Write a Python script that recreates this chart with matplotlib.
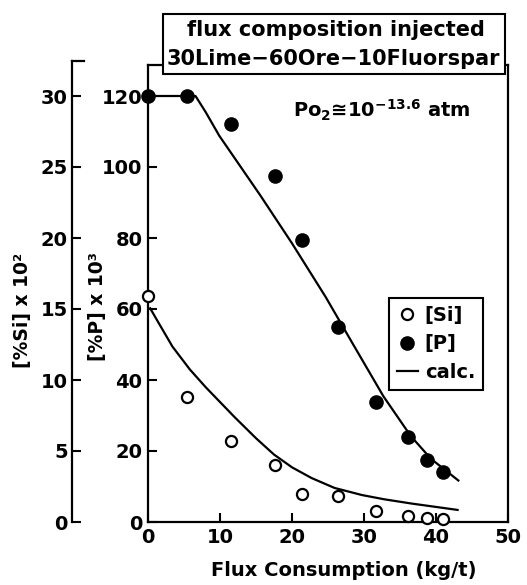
import matplotlib
matplotlib.use('Agg')
import matplotlib.pyplot as plt
from matplotlib.patches import Rectangle
from matplotlib.lines import Line2D

plt.rcParams['font.family'] = ['DejaVu Sans']
plt.rcParams['font.weight'] = 'bold'
plt.rcParams['mathtext.fontset'] = 'dejavusans'
plt.rcParams['mathtext.default'] = 'bf'

# ---- data ----
flux = [0, 5.4, 11.5, 17.6, 21.4, 26.4, 31.6, 36.1, 38.7, 41.0]
p_obs = [120, 120, 112.2, 97.5, 79.3, 54.9, 33.9, 23.9, 17.5, 14.2]       # [%P] x 10^3
si_obs = [15.9, 8.8, 5.7, 4.0, 2.0, 1.8, 0.8, 0.4, 0.3, 0.2]             # [%Si] x 10^2

p_calc_x = [0, 6.6, 8.0, 9.9, 15.6, 20, 24.7, 28.5, 32.7, 36.5, 39.3, 43.1]
p_calc_y = [120, 120, 115.5, 108.8, 92.0, 78.5, 63.3, 50.0, 35.4, 24.2, 17.8, 11.7]

si_calc_x = [0.3, 1.5, 3.4, 5.8, 8.0, 10.0, 12.0, 15.0, 17.5, 20.0, 22.7, 25.9, 29.7, 32.8, 36.6, 43.0]
si_calc_y = [15.05, 14.0, 12.35, 10.75, 9.5, 8.45, 7.4, 5.9, 4.75, 3.85, 3.1, 2.4, 1.9, 1.6, 1.3, 0.85]

x_ticks = [0, 10, 20, 30, 40, 50]
p_ticks = [0, 20, 40, 60, 80, 100, 120]
si_ticks = [0, 5, 10, 15, 20, 25, 30]

title_lines = ['flux composition injected', '30Lime\u221260Ore\u221210Fluorspar']

# ---- layout ----
W, H = 527, 585
fig = plt.figure(figsize=(W / 100, H / 100), dpi=100)


def fx(px):
    return px / W


def fy(py):
    return 1 - py / H


L, R, T, B = 148, 508, 65, 522
ymax = 120 * (B - T) / (B - 96)

ax = fig.add_axes([fx(L), fy(B), (R - L) / W, (B - T) / H])
ax.set_xlim(0, 50)
ax.set_ylim(0, ymax)
ax.set_xticks(x_ticks)
ax.set_yticks(p_ticks)
ax.tick_params(direction='in', length=6.5, width=1.5, labelsize=14, pad=4)
for s in ax.spines.values():
    s.set_linewidth(1.6)

ax2 = ax.twinx()
ax2.set_ylim(0, ymax / 4)
for k in ['right', 'top', 'bottom']:
    ax2.spines[k].set_visible(False)
ax2.spines['left'].set_visible(True)
ax2.spines['left'].set_position(('axes', (72 - L) / (R - L)))
ax2.spines['left'].set_linewidth(1.6)
ax2.spines['left'].set_bounds(0, (B - 61) / ((B - 96) / 120) / 4)
ax2.yaxis.set_ticks_position('left')
ax2.set_yticks(si_ticks)
ax2.tick_params(direction='in', length=6.5, width=1.5, labelsize=14, pad=3)

# calc lines
ax.plot(p_calc_x, p_calc_y, color='k', lw=1.6, zorder=3, clip_on=False)
ax2.plot(si_calc_x, si_calc_y, color='k', lw=1.6, zorder=3, clip_on=False)
# observed
ax.plot(flux, p_obs, 'o', color='k', ms=9.5, zorder=4, clip_on=False)
ax2.plot(flux, si_obs, 'o', mfc='white', mec='k', mew=1.6, ms=8, zorder=4, clip_on=False)

# legend
handles = [
    Line2D([], [], marker='o', ls='none', mfc='white', mec='k', mew=1.6, ms=8),
    Line2D([], [], marker='o', ls='none', color='k', ms=9.5),
    Line2D([], [], color='k', lw=1.6),
]
leg = ax2.legend(handles, ['[Si]', '[P]', 'calc.'], loc='upper right',
                 bbox_to_anchor=((483 - L) / (R - L), (B - 298) / (B - T)),
                 borderaxespad=0, fancybox=False, frameon=True, framealpha=1,
                 edgecolor='k', fontsize=14, handlelength=1.1, handletextpad=0.35,
                 borderpad=0.4, labelspacing=0.5)
leg.get_frame().set_linewidth(1.5)

# Si axis top cap
fig.add_artist(Line2D([fx(72), fx(84)], [fy(61), fy(61)], color='k', lw=1.6))

# axis labels
fig.text(fx(344), fy(570), 'Flux Consumption (kg/t)', ha='center', va='center', fontsize=14)
fig.text(fx(23), fy(310), '[%Si] x 10\u00b2', rotation=90, ha='center', va='center', fontsize=13.5)
fig.text(fx(97), fy(307), '[%P] x 10\u00b3', rotation=90, ha='center', va='center', fontsize=13.5)

# Po2 annotation
fig.text(fx(293), fy(118), 'Po$_{2}$\u2245' + '10$^{-13.6}$ atm',
         ha='left', va='baseline', fontsize=14)

# title box
fig.add_artist(Rectangle((fx(163), fy(74)), (505 - 163) / W, (74 - 14) / H,
                         transform=fig.transFigure, facecolor='white',
                         edgecolor='k', lw=1.5, zorder=10))
fig.text(fx(336), fy(30), title_lines[0], ha='center', va='center', fontsize=15, zorder=11)
fig.text(fx(333), fy(59), title_lines[1], ha='center', va='center', fontsize=15, zorder=11)

fig.savefig('out.png', dpi=100)
